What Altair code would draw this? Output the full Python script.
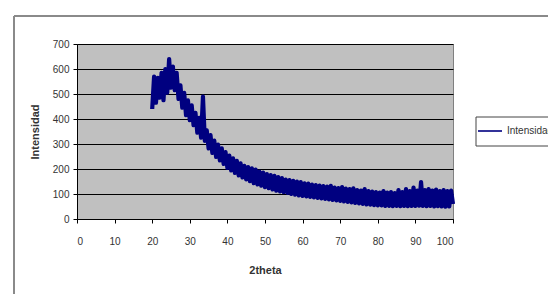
import altair as alt
import pandas as pd

# Scan grid (2theta, degrees) and intensities
TWO_THETA_START = 20.0
TWO_THETA_STEP = 0.5
intensidad = [
    440, 570, 465, 565, 485, 585, 475, 600, 505, 640,
    525, 610, 515, 585, 480, 535, 445, 505, 415, 475,
    395, 455, 375, 425, 345, 405, 325, 490, 312, 355,
    282, 336, 264, 314, 248, 298, 234, 283, 220, 268,
    204, 254, 194, 243, 184, 233, 174, 223, 166, 213,
    158, 208, 151, 203, 143, 198, 138, 190, 133, 186,
    127, 180, 123, 176, 118, 173, 113, 168, 110, 164,
    107, 158, 104, 156, 100, 153, 97, 150, 94, 148,
    92, 143, 90, 142, 88, 138, 86, 136, 84, 134,
    82, 132, 80, 130, 78, 133, 76, 126, 74, 124,
    72, 128, 70, 122, 68, 120, 66, 123, 64, 116,
    62, 114, 60, 120, 58, 112, 57, 110, 55, 108,
    54, 106, 54, 112, 52, 106, 52, 108, 51, 104,
    52, 116, 51, 108, 52, 120, 51, 112, 52, 126,
    52, 114, 53, 148, 52, 116, 51, 120, 52, 114,
    50, 118, 51, 112, 50, 116, 49, 112, 50, 114,
    60,
]
x_ticks = [0, 10, 20, 30, 40, 50, 60, 70, 80, 90, 100]
y_ticks = [0, 100, 200, 300, 400, 500, 600, 700]
series_name = "Intensidad"
x_title = "2theta"
y_title = "Intensidad"

two_theta = [TWO_THETA_START + i * TWO_THETA_STEP for i in range(len(intensidad))]
df = pd.DataFrame({"two_theta": two_theta, "intensidad": intensidad})
one = pd.DataFrame({"k": [0]})  # single row for decorations

FONT = "Liberation Sans"
W, H = 376, 175
PAD = {"left": 69, "top": 36, "right": 95, "bottom": 75}

line = alt.Chart(df).mark_line(color="#000080", strokeWidth=4.2, strokeJoin="round").encode(
    x=alt.X("two_theta:Q",
            scale=alt.Scale(domain=[0, 100], nice=False, zero=False),
            axis=alt.Axis(values=x_ticks, title=x_title, grid=False,
                          labelPadding=13, titlePadding=18)),
    y=alt.Y("intensidad:Q",
            scale=alt.Scale(domain=[0, 700], nice=False),
            axis=alt.Axis(values=y_ticks, title=y_title, grid=True,
                          labelPadding=4, titlePadding=12)),
)

# Outer chart-area border (top and left edges visible in the crop)
border_top = alt.Chart(one).mark_rule(color="#8a8a8a", strokeWidth=2).encode(
    x=alt.value(-63), x2=alt.value(480), y=alt.value(-28))
border_left = alt.Chart(one).mark_rule(color="#8a8a8a", strokeWidth=2).encode(
    x=alt.value(-63), y=alt.value(-28), y2=alt.value(260))

# Legend box
leg_box = alt.Chart(one).mark_rect(fill="white", stroke="#444444", strokeWidth=1).encode(
    x=alt.value(399), x2=alt.value(480), y=alt.value(73), y2=alt.value(102))
leg_line = alt.Chart(one).mark_rule(color="#000080", strokeWidth=1.6).encode(
    x=alt.value(401), x2=alt.value(425), y=alt.value(87))
leg_text = alt.Chart(one).mark_text(
    text=series_name, align="left", baseline="middle", font=FONT, fontSize=10, color="#333333"
).encode(x=alt.value(430), y=alt.value(87))

chart = alt.layer(
    border_top, border_left, line, leg_box, leg_line, leg_text
).properties(
    width=W, height=H,
    autosize=alt.AutoSizeParams(type="none"),
    padding=PAD,
    background="white",
).configure_view(
    fill="#C0C0C0", stroke="#808080", strokeWidth=1,
).configure_axis(
    labelFont=FONT, titleFont=FONT, labelFontSize=10, titleFontSize=11,
    labelColor="#333333", titleColor="#333333", titleFontWeight="bold",
    domainColor="#000000", tickColor="#000000", tickSize=4,
    gridColor="#000000", gridWidth=1, gridOpacity=1,
)

chart.save("out.html", embed_options={"renderer": "svg", "actions": False})
